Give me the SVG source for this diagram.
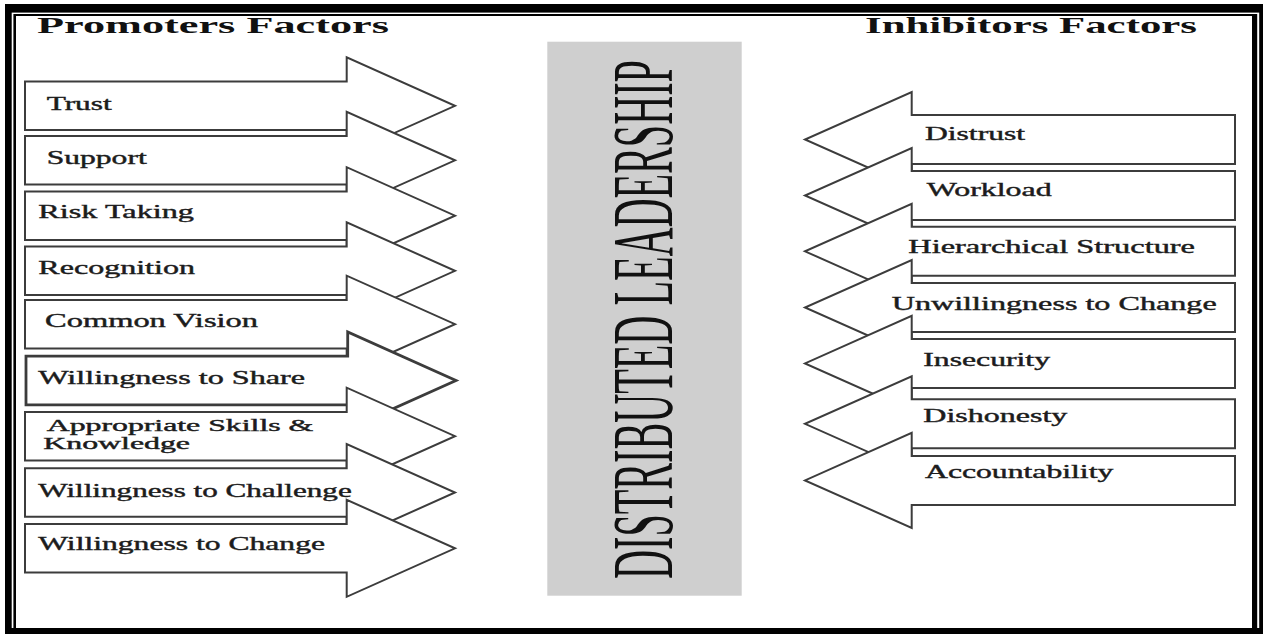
<svg xmlns="http://www.w3.org/2000/svg" xmlns:xlink="http://www.w3.org/1999/xlink" width="1263" height="634" viewBox="0 0 1263 634">
<style>
.shape{fill:#ffffff;stroke:#3c3c3c;stroke-width:2;stroke-linejoin:miter}
.thick{stroke-width:2.8}
.head{font-family:"Liberation Serif","Times New Roman",serif;font-weight:bold;font-size:23px;fill:#111}
.lbl{font-family:"Liberation Serif","Times New Roman",serif;font-size:18px;fill:#1c1c1c;stroke:#1c1c1c;stroke-width:0.4}
.lbl2{font-family:"Liberation Serif","Times New Roman",serif;font-size:16px;fill:#1c1c1c;stroke:#1c1c1c;stroke-width:0.4}
.title{font-family:"Liberation Serif","Times New Roman",serif;font-size:48px;fill:#111}
</style>
<defs>
<path id="larrow" d="M25,-24.3 H346.7 V-48.5 L455,0 L346.7,48.5 V24.3 H25 Z"/>
<path id="rarrow" d="M1235,-24.5 H911.7 V-47.5 L805,0 L911.7,47.5 V24.5 H1235 Z"/>
</defs>
<rect width="1263" height="634" fill="#ffffff"/>
<g id="frame">
<rect x="5" y="4" width="1258" height="640" fill="#000"/>
<rect x="11.7" y="12.6" width="1247.5" height="615.4" fill="#fff"/>
<rect x="13.4" y="14" width="1243.8" height="614" fill="#000"/>
<rect x="16" y="16" width="1236" height="612" fill="#fff"/>
</g>
<g id="headings">
<text class="head" x="37" y="33" textLength="352" lengthAdjust="spacingAndGlyphs">Promoters Factors</text>
<text class="head" x="865" y="33" textLength="332" lengthAdjust="spacingAndGlyphs">Inhibitors Factors</text>
</g>
<g id="center">
<rect x="547.3" y="41.7" width="194.4" height="554" fill="#cfcfcf"/>
<text class="title" transform="translate(672,579) rotate(-90) scale(0.837,1.79)" textLength="620" lengthAdjust="spacingAndGlyphs">DISTRIBUTED LEADERSHIP</text>
</g>
<g id="promoters">
<g id="p-trust"><use xlink:href="#larrow" class="shape" y="105.8"/><text class="lbl" x="46.7" y="110" textLength="65" lengthAdjust="spacingAndGlyphs">Trust</text></g>
<g id="p-support"><use xlink:href="#larrow" class="shape" y="160.3"/><text class="lbl" x="46.7" y="164" textLength="100" lengthAdjust="spacingAndGlyphs">Support</text></g>
<g id="p-risk"><use xlink:href="#larrow" class="shape" y="215.7"/><text class="lbl" x="38.3" y="218.3" textLength="155.7" lengthAdjust="spacingAndGlyphs">Risk Taking</text></g>
<g id="p-recognition"><use xlink:href="#larrow" class="shape" y="270.8"/><text class="lbl" x="38.3" y="274" textLength="156.7" lengthAdjust="spacingAndGlyphs">Recognition</text></g>
<g id="p-vision"><use xlink:href="#larrow" class="shape" y="324.2"/><text class="lbl" x="45" y="326.7" textLength="213" lengthAdjust="spacingAndGlyphs">Common Vision</text></g>
<g id="p-share"><use xlink:href="#larrow" class="shape thick" x="1" y="380.5"/><text class="lbl" x="38.3" y="384.3" textLength="266.7" lengthAdjust="spacingAndGlyphs">Willingness to Share</text></g>
<g id="p-skills"><use xlink:href="#larrow" class="shape" y="436.2"/><text class="lbl2" x="46.7" y="430.5" textLength="266.6" lengthAdjust="spacingAndGlyphs">Appropriate Skills &amp;</text><text class="lbl2" x="43.3" y="448.5" textLength="146.7" lengthAdjust="spacingAndGlyphs">Knowledge</text></g>
<g id="p-challenge"><use xlink:href="#larrow" class="shape" y="492.5"/><text class="lbl" x="38.3" y="496.7" textLength="313.4" lengthAdjust="spacingAndGlyphs">Willingness to Challenge</text></g>
<g id="p-change"><use xlink:href="#larrow" class="shape" y="548.3"/><text class="lbl" x="38.3" y="550" textLength="286.7" lengthAdjust="spacingAndGlyphs">Willingness to Change</text></g>
</g>
<g id="inhibitors">
<g id="i-distrust"><use xlink:href="#rarrow" class="shape" y="139.5"/><text class="lbl" x="925" y="140" textLength="100" lengthAdjust="spacingAndGlyphs">Distrust</text></g>
<g id="i-workload"><use xlink:href="#rarrow" class="shape" y="195.5"/><text class="lbl" x="926.7" y="196" textLength="125" lengthAdjust="spacingAndGlyphs">Workload</text></g>
<g id="i-hierarchy"><use xlink:href="#rarrow" class="shape" y="251.3"/><text class="lbl" x="908.3" y="253.3" textLength="286.7" lengthAdjust="spacingAndGlyphs">Hierarchical Structure</text></g>
<g id="i-unwilling"><use xlink:href="#rarrow" class="shape" y="307.5"/><text class="lbl" x="891.7" y="310" textLength="325" lengthAdjust="spacingAndGlyphs">Unwillingness to Change</text></g>
<g id="i-insecurity"><use xlink:href="#rarrow" class="shape" y="363.4"/><text class="lbl" x="923.3" y="365.8" textLength="126.7" lengthAdjust="spacingAndGlyphs">Insecurity</text></g>
<g id="i-dishonesty"><use xlink:href="#rarrow" class="shape" y="423.8"/><text class="lbl" x="923.3" y="421.7" textLength="144" lengthAdjust="spacingAndGlyphs">Dishonesty</text></g>
<g id="i-accountability"><use xlink:href="#rarrow" class="shape" y="480.4"/><text class="lbl" x="925" y="477.5" textLength="188.3" lengthAdjust="spacingAndGlyphs">Accountability</text></g>
</g>
<g id="connectors"/>
</svg>
